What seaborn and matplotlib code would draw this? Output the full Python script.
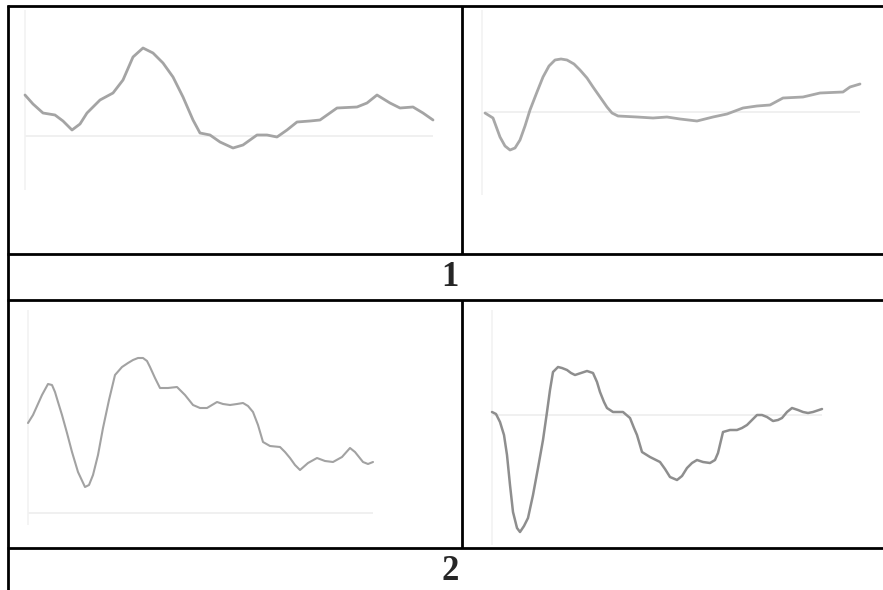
import matplotlib
matplotlib.use("Agg")
import matplotlib.pyplot as plt
import seaborn as sns
import pandas as pd

# ---------------- data (time offset, amplitude relative to baseline) ----------------
p1_time = [0, 8, 18, 30, 38, 47, 55, 62, 75, 88, 98, 108, 118, 128, 138, 148, 158, 168, 175, 185,
           195, 208, 218, 232, 242, 252, 262, 272, 285, 295, 312, 332, 342, 352, 365, 375, 388, 398, 408]
p1_amp = [41, 32, 23, 21, 15, 6, 12, 23, 36, 43, 56, 79, 88, 83, 73, 59, 39, 16, 3, 1,
          -6, -12, -9, 1, 1, -1, 6, 14, 15, 16, 28, 29, 33, 41, 33, 28, 29, 23, 16]

p2_time = [3, 11, 18, 23, 28, 33, 38, 43, 48, 55, 61, 67, 73, 79, 85, 92, 98, 105, 111, 118,
           125, 130, 136, 155, 171, 185, 198, 215, 231, 245, 261, 275, 288, 301, 321, 338, 361, 368, 378]
p2_amp = [-1, -6, -25, -34, -38, -36, -28, -14, 2, 20, 35, 46, 52, 53, 52, 48, 42, 34, 25, 15,
          5, -1, -4, -5, -6, -5, -7, -9, -5, -2, 4, 6, 7, 14, 15, 19, 20, 25, 28]

p3_time = [0, 5, 14, 20, 24, 27, 30, 34, 39, 44, 50, 57, 61, 65, 70, 75, 81, 87, 94, 100,
           105, 110, 115, 119, 122, 127, 132, 140, 149, 157, 165, 172, 179, 189, 195, 202, 209, 215, 220, 225,
           230, 235, 242, 252, 257, 262, 267, 272, 280, 289, 297, 305, 314, 322, 327, 335, 340, 345]
p3_amp = [90, 98, 118, 129, 128, 121, 111, 98, 80, 61, 41, 26, 28, 38, 58, 85, 113, 138, 146, 150,
          153, 155, 155, 152, 146, 135, 125, 125, 126, 118, 108, 105, 105, 111, 109, 108, 109, 110, 107, 101,
          88, 71, 67, 66, 61, 55, 48, 43, 50, 55, 52, 51, 56, 65, 61, 51, 49, 51]

p4_time = [0, 4, 8, 12, 15, 18, 21, 25, 28, 32, 36, 41, 46, 51, 55, 58, 61, 66, 70, 75,
           79, 83, 89, 95, 98, 101, 105, 108, 112, 115, 121, 131, 138, 142, 145, 150, 158, 168, 173, 178,
           185, 190, 195, 200, 205, 211, 218, 223, 226, 231, 238, 245, 250, 255, 260, 265, 270, 275, 281, 286,
           290, 295, 300, 306, 311, 316, 321, 330]
p4_amp = [3, 1, -7, -20, -40, -70, -97, -113, -117, -111, -103, -80, -53, -25, 3, 25, 43, 48, 47, 45,
          42, 40, 42, 44, 43, 42, 33, 23, 13, 7, 3, 3, -3, -13, -20, -37, -42, -47, -54, -62,
          -65, -61, -53, -48, -45, -47, -48, -45, -38, -17, -15, -15, -13, -10, -5, 0, 0, -2, -6, -5,
          -3, 3, 7, 5, 3, 2, 3, 6]

row_labels = ["1", "2"]

# ---------------- layout (pixel geometry of the table) ----------------
W, H = 883, 590
sns.set_theme(style="white")
plt.rcParams["font.family"] = ["Liberation Serif", "DejaVu Serif"]

fig = plt.figure(figsize=(W / 100, H / 100), dpi=100)
fig.patch.set_facecolor("white")

bg = fig.add_axes([0, 0, 1, 1])
bg.set_xlim(0, W)
bg.set_ylim(H, 0)
bg.axis("off")

x_left, x_mid, x_right = 7.5, 461.5, W + 5
y_top, y_r1, y_l1, y_r2 = 5.5, 254, 299.5, 548
lw_tab = 2.0
for yy in (y_top, y_r1, y_l1, y_r2):
    bg.hlines(yy, x_left - 1, x_right, color="black", lw=lw_tab)
bg.vlines(x_left, y_top - 1, H + 5, color="black", lw=lw_tab)
bg.vlines(x_mid, y_top, y_r1, color="black", lw=lw_tab)
bg.vlines(x_mid, y_l1, y_r2, color="black", lw=lw_tab)

bg.text(450, (y_r1 + y_l1) / 2 + 1, row_labels[0], ha="center", va="center",
        fontsize=25, fontweight="bold", family=["Liberation Serif", "DejaVu Serif"])
bg.text(450, 571, row_labels[1], ha="center", va="center",
        fontsize=25, fontweight="bold", family=["Liberation Serif", "DejaVu Serif"])

# panels: (cell l, r, t, b), trace origin x, baseline y, data, style
panels = [
    ((x_left, x_mid, y_top, y_r1), 25, 136, p1_time, p1_amp, "#a4a4a4", 2.0, (10, 190)),
    ((x_mid, W, y_top, y_r1), 482, 112, p2_time, p2_amp, "#a8a8a8", 2.0, (10, 195)),
    ((x_left, x_mid, y_l1, y_r2), 28, 513, p3_time, p3_amp, "#a2a2a2", 1.5, (310, 525)),
    ((x_mid, W, y_l1, y_r2), 492, 415, p4_time, p4_amp, "#8e8e8e", 1.8, (310, 545)),
]

for (l, r, t, b), x0, base, tt, aa, col, lw, (gy0, gy1) in panels:
    ax = fig.add_axes([l / W, 1 - b / H, (r - l) / W, (b - t) / H])
    ax.set_xlim(l - x0, r - x0)
    ax.set_ylim(base - b, base - t)
    ax.axis("off")
    ax.patch.set_alpha(0)
    # faint scanned guide lines (baseline and left axis)
    ax.hlines(0, min(tt), max(tt), color="#ededed", lw=1.2, zorder=1)
    ax.vlines(0, base - gy1, base - gy0, color="#f2f2f2", lw=1.2, zorder=1)
    df = pd.DataFrame({"t": tt, "a": aa})
    sns.lineplot(data=df, x="t", y="a", ax=ax, color=col, lw=lw, sort=False,
                 estimator=None, zorder=3, solid_joinstyle="round", solid_capstyle="round")
    ax.set_xlabel("")
    ax.set_ylabel("")

fig.savefig("out.png", dpi=100, facecolor="white")
